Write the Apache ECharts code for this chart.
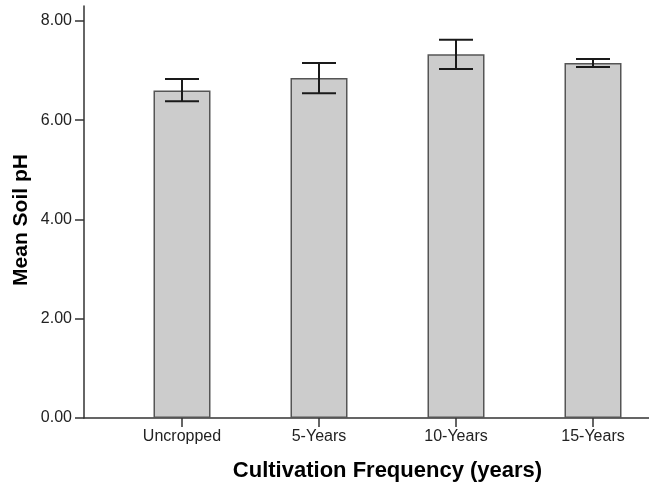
<!DOCTYPE html>
<html>
<head>
<meta charset="utf-8">
<script src="https://cdn.jsdelivr.net/npm/echarts@6/dist/echarts.min.js"></script>
<style>
html,body{margin:0;padding:0;background:#fff;}
#chart{width:649px;height:492px;}
</style>
</head>
<body>
<div id="chart"></div>
<script>
const categories = ['Uncropped', '5-Years', '10-Years', '15-Years'];
const meanPH = [6.60, 6.85, 7.33, 7.15];
const errLow = [6.38, 6.54, 7.03, 7.07];
const errHigh = [6.83, 7.15, 7.62, 7.23];
const yTicks = [0, 2, 4, 6, 8];

const chart = echarts.init(document.getElementById('chart'), null, {renderer: 'canvas'});
const FONT = 'Liberation Sans, Arial, sans-serif';
const AX = '#333333';

const option = {
  animation: false,
  backgroundColor: '#ffffff',
  grid: [
    {left: 84, right: 0, top: 6, bottom: 74},
    {left: 182, right: 56, top: 6, bottom: 74}
  ],
  xAxis: [
    {
      gridIndex: 0, type: 'value', min: 0, max: 1,
      axisLine: {show: true, onZero: false, lineStyle: {color: AX, width: 1.5}},
      axisTick: {show: false}, axisLabel: {show: false}, splitLine: {show: false}
    },
    {
      gridIndex: 1, type: 'category', data: categories, boundaryGap: false,
      axisLine: {show: false},
      axisTick: {show: true, length: 9, lineStyle: {color: AX, width: 1.5}},
      axisLabel: {show: true, margin: 11, fontFamily: FONT, fontSize: 16, color: '#222'},
      splitLine: {show: false},
      name: 'Cultivation Frequency (years)', nameLocation: 'middle', nameGap: 42,
      nameTextStyle: {fontFamily: FONT, fontSize: 22, fontWeight: 'bold', color: '#000'}
    }
  ],
  yAxis: [
    {
      gridIndex: 0, type: 'value', min: 0, max: 8.3,
      axisLine: {show: true, onZero: false, lineStyle: {color: AX, width: 1.5}},
      axisTick: {show: true, length: 9, customValues: yTicks, lineStyle: {color: AX, width: 1.5}},
      axisLabel: {show: true, margin: 12, customValues: yTicks, fontFamily: FONT, fontSize: 16, color: '#222',
        formatter: v => v.toFixed(2)},
      splitLine: {show: false},
      name: 'Mean Soil pH', nameLocation: 'middle', nameGap: 52, nameRotate: 90, nameMoveOverlap: false,
      nameTextStyle: {fontFamily: FONT, fontSize: 21, fontWeight: 'bold', color: '#000', padding: [0, 16, 0, 0]}
    },
    {
      gridIndex: 1, type: 'value', min: 0, max: 8.3,
      axisLine: {show: false}, axisTick: {show: false}, axisLabel: {show: false}, splitLine: {show: false}
    }
  ],
  series: [
    {
      type: 'bar', xAxisIndex: 1, yAxisIndex: 1, data: meanPH, barWidth: 57, clip: false,
      itemStyle: {color: '#cccccc', borderColor: '#555555', borderWidth: 1.5},
      z: 2
    },
    {
      type: 'custom', xAxisIndex: 1, yAxisIndex: 1, clip: false, z: 3,
      data: categories.map((c, i) => [i, errLow[i], errHigh[i]]),
      encode: {x: 0, y: [1, 2]},
      renderItem: function (params, api) {
        const i = api.value(0);
        const lo = api.coord([i, api.value(1)]);
        const hi = api.coord([i, api.value(2)]);
        const hw = 17;
        const st = {stroke: '#1a1a1a', lineWidth: 2};
        return {
          type: 'group',
          children: [
            {type: 'line', shape: {x1: lo[0], y1: lo[1], x2: hi[0], y2: hi[1]}, style: st},
            {type: 'line', shape: {x1: lo[0] - hw, y1: lo[1], x2: lo[0] + hw, y2: lo[1]}, style: st},
            {type: 'line', shape: {x1: hi[0] - hw, y1: hi[1], x2: hi[0] + hw, y2: hi[1]}, style: st}
          ]
        };
      }
    }
  ]
};
chart.setOption(option);
</script>
</body>
</html>
